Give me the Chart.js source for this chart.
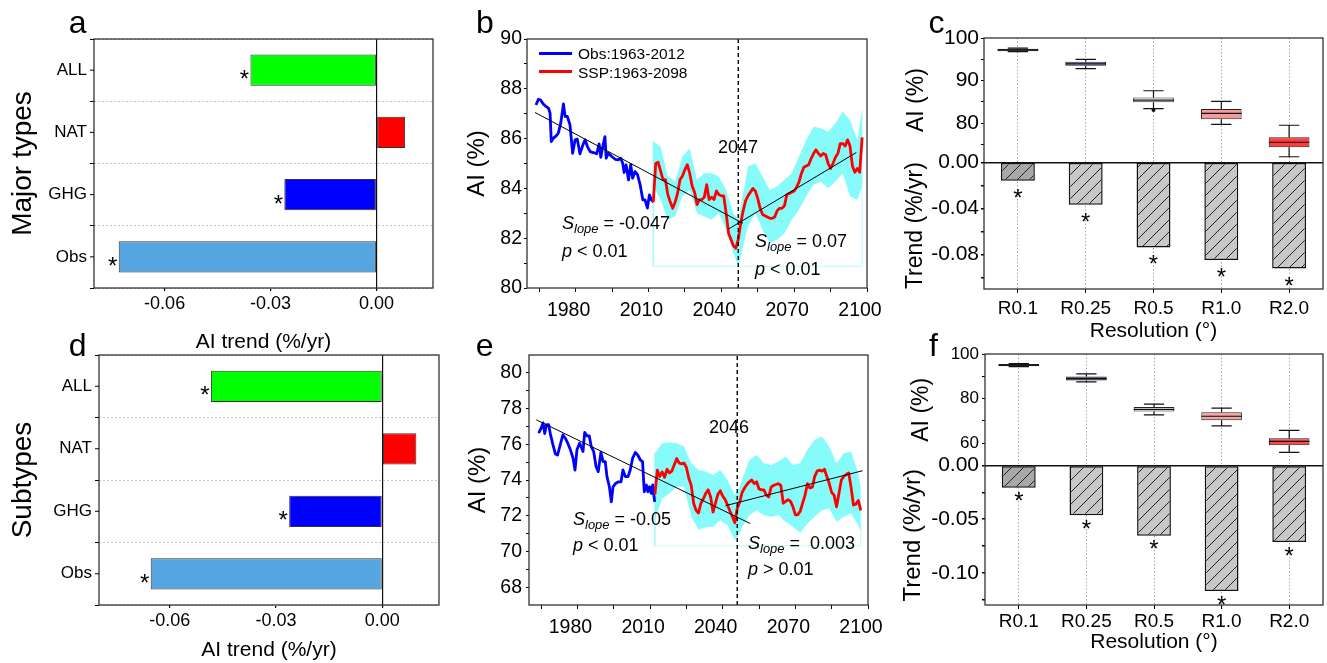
<!DOCTYPE html>
<html>
<head>
<meta charset="utf-8">
<title>AI trends</title>
<script src="https://cdn.jsdelivr.net/npm/chart.js@4.4.1/dist/chart.umd.min.js"></script>
<style>
  html, body { margin: 0; padding: 0; background: #fff; }
  body { position: relative; width: 1327px; height: 663px; overflow: hidden; font-family: "Liberation Sans", Arial, sans-serif; }
  canvas { position: absolute; }
  .txt { position: absolute; white-space: nowrap; line-height: 1; color: #000; }
  .txt sub { font-size: 0.72em; font-style: italic; vertical-align: -0.3em; line-height: 0; }
  .key { position: absolute; height: 3px; }
</style>
</head>
<body>
<script>
// ---------- data: panels a / d ----------
const forcingLabels = ['ALL', 'NAT', 'GHG', 'Obs'];
const trendMajor = [-0.0357, 0.0081, -0.0261, -0.073];
const trendSub = [-0.0484, 0.0096, -0.0263, -0.0654];
const sigMajor = [true, false, true, true];
const sigSub = [true, false, true, true];
const trendTicks = [-0.06, -0.03, 0];

// ---------- data: panel b (major types) ----------
const obsYearsB = [1963.7, 1964.7, 1965.6, 1966.7, 1967.8, 1968.9, 1969.5, 1970.0, 1970.9, 1972.0,
  1972.9, 1973.9, 1975.0, 1975.7, 1976.6, 1977.7, 1978.8, 1979.8, 1980.7, 1981.8,
  1982.9, 1983.9, 1984.9, 1986.0, 1987.3, 1988.7, 1989.7, 1990.4, 1991.2, 1992.1,
  1992.6, 1993.5, 1994.9, 1996.3, 1997.6, 1998.6, 1999.4, 2000.0, 2000.8, 2001.8,
  2002.7, 2003.5, 2004.5, 2005.5, 2006.6, 2007.7, 2008.6, 2009.6, 2010.4, 2011.2, 2012.1];
const obsB = [87.35, 87.58, 87.55, 87.39, 87.29, 87.21, 87.02, 85.88, 86.02, 86.11,
  86.22, 86.62, 87.39, 86.89, 86.89, 86.55, 85.41, 85.95, 85.98, 85.39,
  85.71, 85.95, 85.68, 85.48, 85.44, 85.39, 85.79, 85.25, 85.68, 86.08,
  85.21, 85.41, 85.28, 85.17, 85.15, 85.21, 85.01, 84.64, 84.95, 84.34,
  84.95, 84.41, 84.68, 84.55, 84.14, 83.54, 83.54, 83.21, 83.74, 83.54, 83.45];
const sspStartB = 2012;
const sspB = [83.45, 85.0, 85.05, 84.7, 84.35, 84.35, 83.75, 83.45, 83.2, 83.45,
  83.8, 84.35, 84.5, 84.75, 84.95, 84.6, 84.1, 83.85, 83.35, 83.55,
  83.55, 83.65, 84.15, 83.55, 83.65, 83.55, 83.9, 83.75, 83.7, 83.7,
  83.0, 82.2, 81.95, 81.7, 81.6, 81.95, 82.6, 83.1, 83.5, 83.7,
  83.85, 84.0, 83.9, 83.6, 83.2, 82.95, 82.9, 82.85, 82.8, 82.8,
  82.85, 83.1, 83.2, 83.2, 83.3, 83.75, 83.8, 83.85, 83.9, 84.05,
  84.25, 84.6, 84.85, 84.9, 84.95, 85.2, 85.4, 85.55, 85.4, 85.3,
  85.4, 85.35, 85.0, 84.8, 85.0, 85.25, 85.4, 85.8, 85.8, 85.7,
  85.95, 85.7, 84.9, 84.65, 84.8, 84.65, 86.05];
const bandYearsB = [2012, 2015, 2018, 2021, 2024, 2027, 2030, 2033, 2036, 2039, 2042, 2045, 2047, 2048,
  2051, 2054, 2057, 2060, 2063, 2066, 2069, 2072, 2075, 2078, 2081, 2084, 2087, 2090, 2093, 2096, 2098];
const upperB = [85.88, 85.68, 84.48, 84.28, 85.28, 85.61, 84.35, 84.61, 84.61, 84.48, 83.94, 83.0, 82.74, 83.27,
  84.88, 85.01, 84.48, 83.94, 84.08, 84.35, 84.61, 85.28, 85.95, 86.48, 86.42, 86.28, 86.62, 87.09, 86.75, 85.95, 87.15];
const lowerB = [84.08, 83.54, 82.74, 82.87, 83.68, 83.94, 83.0, 82.87, 82.74, 83.0, 82.34, 81.4, 80.87, 81.27,
  82.47, 83.0, 82.34, 81.8, 81.94, 82.2, 82.74, 83.14, 83.68, 84.14, 84.28, 84.01, 84.28, 84.61, 83.68, 83.54, 84.08];
const fitOneYearsB = [1963.3, 2048.9], fitOneB = [87.05, 82.6];
const fitTwoYearsB = [2043, 2095.6], fitTwoB = [82.37, 85.44];
const breakYearB = 2047;

// ---------- data: panel e (subtypes) ----------
const obsYearsE = [1964.0, 1965.0, 1965.8, 1966.5, 1967.2, 1968.1, 1968.8, 1969.9, 1970.9, 1971.8,
  1972.9, 1974.0, 1975.0, 1976.0, 1977.1, 1978.2, 1979.0, 1979.8, 1980.9, 1981.6,
  1982.3, 1983.0, 1984.0, 1984.9, 1985.7, 1986.7, 1987.7, 1988.6, 1989.7, 1990.6,
  1991.5, 1992.2, 1993.2, 1994.0, 1994.7, 1995.7, 1997.0, 1998.0, 1998.8, 1999.8,
  2000.9, 2001.8, 2002.8, 2003.9, 2004.9, 2006.0, 2006.9, 2007.6, 2008.5, 2009.1,
  2009.8, 2010.5, 2011.1, 2011.9];
const obsE = [76.63, 76.9, 77.2, 76.6, 77.1, 77.1, 76.6, 75.97, 75.46, 75.4,
  75.97, 76.53, 76.34, 76.06, 75.69, 75.22, 74.56, 75.69, 76.06, 75.84,
  75.6, 76.66, 76.47, 76.47, 75.87, 75.6, 74.75, 74.47, 75.54, 75.03,
  75.03, 74.19, 73.62, 72.78, 73.62, 73.8, 73.9, 73.9, 74.56, 74.19,
  74.19, 74.56, 75.22, 75.54, 75.4, 75.12, 75.03, 73.34, 73.72, 73.34,
  73.62, 73.25, 73.72, 72.78];
const sspStartE = 2012;
const sspE = [73.2, 74.55, 74.2, 74.45, 74.15, 74.6, 74.4, 74.5, 74.85, 75.2,
  74.95, 74.9, 74.95, 74.7, 74.1, 73.7, 72.7, 72.3, 72.15, 72.7,
  72.95, 73.25, 73.45, 73.05, 72.2, 72.7, 73.2, 73.4, 73.1, 72.9,
  72.6, 72.25, 71.95, 71.6, 72.4, 72.75, 73.3, 73.55, 73.75, 73.9,
  74.0, 73.8, 73.9, 73.5, 73.45, 73.45, 73.15, 73.05, 73.6, 73.7,
  73.75, 73.8, 73.7, 72.7, 72.8, 72.9, 72.8, 72.5, 72.05, 72.05,
  72.25, 72.7, 73.15, 73.8, 73.55, 73.6, 74.2, 74.5, 74.55, 74.5,
  74.6, 74.2, 73.8, 73.3, 73.15, 72.5, 73.25, 74.0, 74.2, 74.3,
  74.4, 73.6, 72.6, 72.65, 72.85, 72.3];
const bandYearsE = [2012, 2015, 2018, 2021, 2024, 2027, 2030, 2033, 2036, 2039, 2042, 2045, 2047, 2048,
  2051, 2054, 2057, 2060, 2063, 2066, 2069, 2072, 2075, 2078, 2081, 2084, 2087, 2090, 2093, 2096, 2097];
const upperE = [75.5, 76.06, 76.1, 76.06, 75.87, 74.94, 74.56, 74.47, 74.28, 74.56, 74.0, 73.16, 73.62, 74.0,
  75.12, 75.4, 74.94, 74.84, 75.03, 75.31, 74.84, 74.94, 75.69, 76.25, 76.44, 75.87, 74.94, 75.5, 75.6, 74.37, 73.62];
const lowerE = [71.75, 72.97, 73.25, 73.62, 73.62, 71.94, 71.22, 71.37, 71.37, 71.75, 71.47, 70.62, 71.0, 71.37,
  72.03, 72.31, 72.03, 71.94, 72.03, 71.66, 71.37, 71.04, 71.56, 71.94, 72.31, 72.41, 71.66, 71.94, 72.12, 71.47, 71.09];
const fitOneYearsE = [1963, 2051.4], fitOneE = [77.37, 71.56];
const fitTwoYearsE = [2041.1, 2097.8], fitTwoE = [72.56, 74.52];
const breakYearE = 2046;

const yearTicks = [1965, 1980, 1995, 2010, 2025, 2040, 2055, 2070, 2085, 2100];
const yearLabels = [1980, 2010, 2040, 2070, 2100];

// ---------- data: panels c / f ----------
const resLabels = ['R0.1', 'R0.25', 'R0.5', 'R1.0', 'R2.0'];
const aiMinC = [96.8, 92.8, 83.4, 79.7, 72.1];
const aiQ1C = [96.9, 93.5, 84.9, 80.9, 74.3];
const aiMedC = [97.2, 93.9, 85.4, 82.3, 75.5];
const aiQ3C = [97.5, 94.4, 86.0, 83.3, 76.7];
const aiMaxC = [97.6, 95.0, 87.6, 85.1, 79.5];
const aiOutC = [null, null, 83.1, null, null];
const resTrendC = [-0.0161, -0.0368, -0.0739, -0.0849, -0.0923];

const aiMinF = [94.3, 87.5, 72.7, 67.8, 55.9];
const aiQ1F = [94.5, 88.1, 74.2, 70.3, 59.1];
const aiMedF = [95.0, 89.0, 75.2, 72.1, 60.8];
const aiQ3F = [95.5, 89.9, 76.2, 73.9, 62.2];
const aiMaxF = [95.7, 91.1, 77.5, 75.7, 65.8];
const aiOutF = [null, null, null, null, null];
const resTrendF = [-0.0208, -0.0464, -0.0654, -0.117, -0.0713];

// ---------- styles ----------
const forcingColors = ['#00ff00', '#ff0000', '#0000ff', '#55a6e0'];
const boxColorsC = ['#3a3a3a', '#8c8ce6', '#ffffff', '#f59a9a', '#ff3b3b'];
const boxColorsF = ['#1e1e1e', '#3b3b5a', '#f4f4f4', '#f4a3a3', '#ff4848'];
const BAND = 'rgb(135, 250, 250)';

Chart.defaults.font.family = '"Liberation Sans", Arial, sans-serif';
Chart.defaults.color = '#000';
Chart.defaults.animation = false;
Chart.defaults.plugins.legend.display = false;
Chart.defaults.plugins.tooltip.enabled = false;

// ---------- helpers ----------
const pts = (xs, ys) => xs.map((x, i) => ({x, y: ys[i]}));
const yearsFrom = (start, n) => Array.from({length: n}, (_, i) => start + i);
const zeroLine = ctx => (ctx.tick && ctx.tick.value === 0) ? '#111' : 'rgba(0,0,0,0)';

function makeCanvas(id, box) {
  const c = document.createElement('canvas');
  c.id = id;
  c.width = box.w;
  c.height = box.h;
  c.style.left = box.left + 'px';
  c.style.top = box.top + 'px';
  c.style.width = box.w + 'px';
  c.style.height = box.h + 'px';
  document.body.appendChild(c);
  return c;
}

// pin the chart area to page coordinates
function layoutFor(box, area) {
  return {
    padding: {left: 0, top: area.top - box.top, right: box.left + box.w - area.right, bottom: 0},
    yWidth: area.left - box.left,
    xHeight: box.top + box.h - area.bottom
  };
}
const noPad = s => { s.paddingTop = s.paddingBottom = s.paddingLeft = s.paddingRight = 0; };
const fixWidth = w => s => { s.width = w; noPad(s); };
const fixHeight = h => s => { s.height = h; noPad(s); };
const useTicks = values => s => { s.ticks = values.map(v => ({value: v})); };

function hatch(fill) {
  const c = document.createElement('canvas');
  c.width = c.height = 12;
  const g = c.getContext('2d');
  g.fillStyle = fill;
  g.fillRect(0, 0, 12, 12);
  g.strokeStyle = '#222';
  g.lineWidth = 1;
  g.beginPath();
  g.moveTo(0, 12); g.lineTo(12, 0);
  g.moveTo(-6, 6); g.lineTo(6, -6);
  g.moveTo(6, 18); g.lineTo(18, 6);
  g.stroke();
  return g.createPattern(c, 'repeat');
}

function addText(html, x, baseline, size, center) {
  const d = document.createElement('div');
  d.className = 'txt';
  d.innerHTML = html;
  d.style.fontSize = size + 'px';
  d.style.top = (baseline - 0.8465 * size) + 'px';
  d.style.left = x + 'px';
  if (center) d.style.transform = 'translateX(-50%)';
  document.body.appendChild(d);
}

function addKey(x1, x2, y, color) {
  const d = document.createElement('div');
  d.className = 'key';
  d.style.left = x1 + 'px';
  d.style.top = (y - 1.5) + 'px';
  d.style.width = (x2 - x1) + 'px';
  d.style.background = color;
  document.body.appendChild(d);
}

// ---------- plugins ----------
const framePlugin = {
  id: 'frame',
  afterDraw(chart, args, opts) {
    const {ctx, chartArea: a} = chart;
    ctx.save();
    ctx.strokeStyle = '#333';
    ctx.lineWidth = 1.3;
    ctx.strokeRect(a.left, a.top, a.right - a.left, a.bottom - a.top);
    if (opts.centerTicks) {
      const ys = chart.scales.y;
      ctx.strokeStyle = '#000';
      ctx.lineWidth = 1;
      ctx.beginPath();
      ys.ticks.forEach((t, i) => {
        const y = ys.getPixelForTick(i);
        ctx.moveTo(a.left - 4, y);
        ctx.lineTo(a.left, y);
      });
      ctx.stroke();
    }
    ctx.restore();
  }
};

const starPlugin = {
  id: 'stars',
  afterDatasetsDraw(chart, args, opts) {
    const ctx = chart.ctx;
    chart.data.datasets.forEach((ds, di) => {
      if (!ds.stars) return;
      chart.getDatasetMeta(di).data.forEach((el, i) => {
        if (!ds.stars[i]) return;
        ctx.save();
        ctx.font = '24px "Liberation Sans", Arial, sans-serif';
        ctx.fillStyle = '#000';
        ctx.textAlign = 'center';
        ctx.textBaseline = 'alphabetic';
        if (opts.horizontal) {
          ctx.fillText('*', Math.min(el.x, el.base) - opts.gap, el.y + opts.shift);
        } else {
          ctx.fillText('*', el.x, Math.max(el.y, el.base) + opts.gap);
        }
        ctx.restore();
      });
    });
  }
};

const whiskerPlugin = {
  id: 'whiskers',
  afterDatasetsDraw(chart) {
    const ctx = chart.ctx;
    chart.data.datasets.forEach((ds, di) => {
      if (!ds.whiskerLow) return;
      const ys = chart.scales[ds.yAxisID];
      ctx.save();
      ctx.strokeStyle = '#111';
      ctx.lineWidth = 1.2;
      chart.getDatasetMeta(di).data.forEach((bar, i) => {
        const x = bar.x, half = bar.width / 2, cap = half * 0.5;
        const yLo = ys.getPixelForValue(ds.whiskerLow[i]);
        const yHi = ys.getPixelForValue(ds.whiskerHigh[i]);
        const yQ1 = ys.getPixelForValue(ds.data[i][0]);
        const yQ3 = ys.getPixelForValue(ds.data[i][1]);
        const yMed = ys.getPixelForValue(ds.medians[i]);
        ctx.beginPath();
        ctx.moveTo(x, yHi); ctx.lineTo(x, yQ3);
        ctx.moveTo(x, yQ1); ctx.lineTo(x, yLo);
        ctx.moveTo(x - cap, yHi); ctx.lineTo(x + cap, yHi);
        ctx.moveTo(x - cap, yLo); ctx.lineTo(x + cap, yLo);
        ctx.moveTo(x - half, yMed); ctx.lineTo(x + half, yMed);
        ctx.stroke();
        if (ds.outliers && ds.outliers[i] != null) {
          ctx.fillStyle = '#111';
          ctx.beginPath();
          ctx.arc(x, ys.getPixelForValue(ds.outliers[i]), 2, 0, Math.PI * 2);
          ctx.fill();
        }
      });
      ctx.restore();
    });
  }
};

// ---------- panel builders ----------
function typeChart(id, box, area, values, sig, yTitle, xTitlePad) {
  const L = layoutFor(box, area);
  return new Chart(makeCanvas(id, box), {
    type: 'bar',
    data: {
      labels: forcingLabels,
      datasets: [{
        data: values,
        backgroundColor: forcingColors,
        borderColor: '#333',
        borderWidth: 1,
        borderSkipped: false,
        barPercentage: 0.5,
        categoryPercentage: 1,
        stars: sig
      }]
    },
    options: {
      indexAxis: 'y',
      responsive: false,
      layout: {padding: L.padding, autoPadding: false},
      plugins: {frame: {centerTicks: true}, stars: {horizontal: true, gap: 6, shift: 17}},
      scales: {
        x: {
          type: 'linear', min: -0.08, max: 0.016, bounds: 'data',
          afterBuildTicks: useTicks(trendTicks),
          afterFit: fixHeight(L.xHeight),
          ticks: {callback: v => v.toFixed(2), font: {size: 18}, padding: 2, autoSkip: false, maxRotation: 0},
          grid: {color: zeroLine, lineWidth: 1.2, tickColor: '#000', tickLength: 3},
          border: {display: false},
          title: {display: true, text: 'AI trend (%/yr)', font: {size: 21}, padding: {top: 0, bottom: xTitlePad}}
        },
        y: {
          afterFit: fixWidth(L.yWidth),
          ticks: {font: {size: 17}, padding: 3},
          grid: {offset: true, color: '#c4c4c4', tickColor: '#000', tickLength: 4},
          border: {display: false, dash: [2, 2]},
          title: {display: true, text: yTitle, font: {size: 28}, padding: {top: 6.5, bottom: 0}}
        }
      }
    },
    plugins: [framePlugin, starPlugin]
  });
}

function seriesChart(id, box, area, s) {
  const L = layoutFor(box, area);
  // faint outline that the spread band leaves in the original figure
  const bandFloor = Math.min(...s.lower) - s.floorGap;
  const bandFirst = s.bandX[0], bandLast = s.bandX[s.bandX.length - 1];
  return new Chart(makeCanvas(id, box), {
    type: 'line',
    data: {
      datasets: [
        {data: [{x: s.breakYear, y: s.yMin}, {x: s.breakYear, y: s.yMax}], borderColor: '#000', borderWidth: 1.4, borderDash: [4, 3]},
        {data: pts(s.fitOneX, s.fitOne), borderColor: '#000', borderWidth: 1},
        {data: pts(s.fitTwoX, s.fitTwo), borderColor: '#000', borderWidth: 1},
        {data: pts(yearsFrom(s.sspStart, s.ssp.length), s.ssp), borderColor: '#ff0000', borderWidth: 2.8},
        {data: pts(s.obsX, s.obs), borderColor: '#0000ff', borderWidth: 2.8},
        {data: pts(s.bandX, s.upper), borderWidth: 0, borderColor: 'rgba(0,0,0,0)', backgroundColor: BAND, fill: '+1'},
        {data: pts(s.bandX, s.lower), borderWidth: 0, borderColor: 'rgba(0,0,0,0)', fill: false},
        {data: [{x: bandFirst, y: s.upper[0]}, {x: bandFirst, y: bandFloor}, {x: bandLast, y: bandFloor}, {x: bandLast, y: s.upper[s.upper.length - 1]}],
          borderColor: 'rgba(135, 250, 250, 0.55)', borderWidth: 1}
      ]
    },
    options: {
      responsive: false,
      layout: {padding: L.padding, autoPadding: false},
      elements: {point: {radius: 0}, line: {tension: 0, borderJoinStyle: 'round'}},
      plugins: {frame: {}},
      scales: {
        x: {
          type: 'linear', min: 1960, max: 2100, bounds: 'data',
          afterBuildTicks: useTicks(yearTicks),
          afterFit: fixHeight(L.xHeight),
          ticks: {callback: v => yearLabels.includes(v) ? String(v) : '', font: {size: 19.5}, padding: s.xPad, labelOffset: -7, autoSkip: false, maxRotation: 0},
          grid: {drawOnChartArea: false, tickColor: '#000', tickLength: 4},
          border: {display: false}
        },
        y: {
          type: 'linear', min: s.yMin, max: s.yMax, bounds: 'data',
          afterBuildTicks: useTicks(s.yTicks),
          afterFit: fixWidth(L.yWidth),
          ticks: {callback: v => s.yLabels.includes(v) ? String(v) : '', font: {size: 19.5}, padding: s.yPad, autoSkip: false},
          grid: {drawOnChartArea: false, tickColor: '#000', tickLength: 3},
          border: {display: false},
          title: {display: true, text: 'AI (%)', font: {size: 24}, padding: {top: s.titlePad, bottom: 0}}
        }
      }
    },
    plugins: [framePlugin]
  });
}

const hatchDark = hatch('#a8a8a8');
const hatchLight = hatch('#c8c8c8');

function resChart(id, box, area, r) {
  const L = layoutFor(box, area);
  return new Chart(makeCanvas(id, box), {
    type: 'bar',
    data: {
      labels: resLabels,
      datasets: [
        {
          data: r.trend, yAxisID: 'yT',
          backgroundColor: r.trend.map((_, i) => i === 0 ? hatchDark : hatchLight),
          borderColor: '#111', borderWidth: 1.5, borderSkipped: false,
          barPercentage: 0.5, categoryPercentage: 1, grouped: false,
          stars: r.trend.map(() => true)
        },
        {
          data: r.q1.map((q, i) => [q, r.q3[i]]), yAxisID: 'yA',
          backgroundColor: r.colors, borderColor: '#222', borderWidth: 1, borderSkipped: false,
          barPercentage: 0.6, categoryPercentage: 1, grouped: false,
          whiskerLow: r.min, whiskerHigh: r.max, medians: r.med, outliers: r.out
        }
      ]
    },
    options: {
      responsive: false,
      layout: {padding: L.padding, autoPadding: false},
      plugins: {frame: {}, stars: {horizontal: false, gap: r.starGap}},
      scales: {
        x: {
          afterFit: fixHeight(L.xHeight),
          ticks: {font: {size: 19}, padding: r.xPad, autoSkip: false, maxRotation: 0},
          grid: {offset: false, color: '#a8a8a8', tickColor: '#000', tickLength: 4},
          border: {display: false, dash: [1.5, 2]},
          title: {display: true, text: 'Resolution (°)', font: {size: 21}, padding: {top: 0, bottom: r.xTitlePad}}
        },
        yT: {
          type: 'linear', position: 'left', stack: 'res', stackWeight: r.wT,
          min: r.tMin, max: 0, bounds: 'data',
          afterBuildTicks: useTicks(r.tTicks),
          afterFit: fixWidth(L.yWidth),
          ticks: {callback: v => r.tLabels.includes(v) ? v.toFixed(2) : '', font: {size: 21}, padding: r.yPad, autoSkip: false},
          grid: {color: zeroLine, lineWidth: 1.5, tickColor: '#000', tickLength: 3},
          border: {display: false},
          title: {display: true, text: 'Trend (%/yr)', font: {size: r.tTitleSize}, padding: {top: r.tTitlePad, bottom: 0}}
        },
        yA: {
          type: 'linear', position: 'left', stack: 'res', stackWeight: r.wA,
          min: r.aMin, max: 100, bounds: 'data',
          afterBuildTicks: useTicks(r.aTicks),
          afterFit: fixWidth(L.yWidth),
          ticks: {callback: v => r.aLabels.includes(v) ? String(v) : '', font: {size: r.aFont}, padding: r.yPad, autoSkip: false},
          grid: {drawOnChartArea: false, tickColor: '#000', tickLength: 3},
          border: {display: false},
          title: {display: true, text: 'AI (%)', font: {size: 23}, padding: {top: r.aTitlePad, bottom: 0}}
        }
      }
    },
    plugins: [framePlugin, starPlugin, whiskerPlugin]
  });
}

// ---------- build ----------
typeChart('chartA', {left: 0, top: 0, w: 445, h: 360}, {left: 94, top: 39, right: 433, bottom: 288},
  trendMajor, sigMajor, 'Major types', 5.4);
typeChart('chartD', {left: 0, top: 330, w: 445, h: 333}, {left: 99, top: 355, right: 439, bottom: 605},
  trendSub, sigSub, 'Subtypes', 0);

seriesChart('chartB', {left: 445, top: 0, w: 440, h: 345}, {left: 527, top: 39, right: 867, bottom: 288}, {
  obsX: obsYearsB, obs: obsB, sspStart: sspStartB, ssp: sspB,
  bandX: bandYearsB, upper: upperB, lower: lowerB, floorGap: 0,
  fitOneX: fitOneYearsB, fitOne: fitOneB, fitTwoX: fitTwoYearsB, fitTwo: fitTwoB,
  breakYear: breakYearB, yMin: 80, yMax: 90,
  yTicks: [80, 81, 82, 83, 84, 85, 86, 87, 88, 89, 90], yLabels: [80, 82, 84, 86, 88, 90],
  xPad: 7, yPad: 2, titlePad: 18.3
});
seriesChart('chartE', {left: 445, top: 330, w: 440, h: 333}, {left: 529, top: 355, right: 868, bottom: 605}, {
  obsX: obsYearsE, obs: obsE, sspStart: sspStartE, ssp: sspE,
  bandX: bandYearsE, upper: upperE, lower: lowerE, floorGap: 0.3,
  fitOneX: fitOneYearsE, fitOne: fitOneE, fitTwoX: fitTwoYearsE, fitTwo: fitTwoE,
  breakYear: breakYearE, yMin: 67, yMax: 81,
  yTicks: [68, 69, 70, 71, 72, 73, 74, 75, 76, 77, 78, 79, 80], yLabels: [68, 70, 72, 74, 76, 78, 80],
  xPad: 6.5, yPad: 4, titlePad: 18.6
});

resChart('chartC', {left: 885, top: 0, w: 442, h: 350}, {left: 984, top: 38, right: 1323, bottom: 289}, {
  trend: resTrendC, q1: aiQ1C, q3: aiQ3C, min: aiMinC, max: aiMaxC, med: aiMedC, out: aiOutC,
  colors: boxColorsC, starGap: 25, xPad: 4, xTitlePad: 6.4, yPad: 2,
  wT: 1.02, wA: 1, tMin: -0.11, aMin: 70.8,
  tTicks: [0, -0.02, -0.04, -0.06, -0.08, -0.1], tLabels: [0, -0.04, -0.08],
  aTicks: [75, 80, 85, 90, 95, 100], aLabels: [80, 90, 100], aFont: 21,
  tTitleSize: 23, tTitlePad: 16.5, aTitlePad: 18.1
});
resChart('chartF', {left: 885, top: 330, w: 442, h: 333}, {left: 985, top: 354, right: 1323, bottom: 605}, {
  trend: resTrendF, q1: aiQ1F, q3: aiQ3F, min: aiMinF, max: aiMaxF, med: aiMedF, out: aiOutF,
  colors: boxColorsF, starGap: 21.5, xPad: 1, xTitlePad: 7.7, yPad: 3,
  wT: 1, wA: 0.8, tMin: -0.13, aMin: 50,
  tTicks: [0, -0.025, -0.05, -0.075, -0.1, -0.125], tLabels: [0, -0.05, -0.1],
  aTicks: [60, 70, 80, 90, 100], aLabels: [60, 80, 100], aFont: 17,
  tTitleSize: 24, tTitlePad: 14, aTitlePad: 23.2
});

// ---------- panel letters, legend, annotations ----------
[['a', 68.7, 33], ['b', 476, 33], ['c', 928.4, 32.7], ['d', 68.7, 356], ['e', 475.7, 356], ['f', 929, 355.7]]
  .forEach(([t, x, b]) => addText(t, x, b, 32));

addKey(539, 572, 53.3, '#0000ff');
addKey(539, 572, 71.7, '#ff0000');
addText('Obs:1963-2012', 578, 59.3, 15.5);
addText('SSP:1963-2098', 578, 78, 15.5);

addText('2047', 738, 153, 18, true);
addText('<i>S</i><sub>lope</sub> = -0.047', 562, 229, 18);
addText('<i>p</i> &lt; 0.01', 562, 257, 18);
addText('<i>S</i><sub>lope</sub> = 0.07', 755, 247, 18);
addText('<i>p</i> &lt; 0.01', 755, 275, 18);

addText('2046', 729, 433, 18, true);
addText('<i>S</i><sub>lope</sub> = -0.05', 573, 525, 18);
addText('<i>p</i> &lt; 0.01', 573, 551.7, 18);
addText('<i>S</i><sub>lope</sub> =&nbsp; 0.003', 748, 549, 18);
addText('<i>p</i> &gt; 0.01', 748, 575.7, 18);
</script>
</body>
</html>
